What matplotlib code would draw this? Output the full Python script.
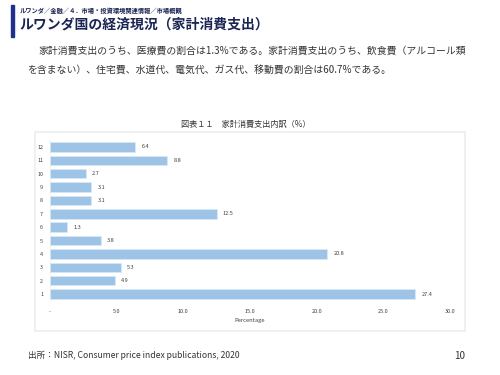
#household consumption breakdown slide (Rwanda), bar chart with slide texts around it
import matplotlib
matplotlib.use('Agg')
import matplotlib.pyplot as plt
from matplotlib.patches import Rectangle

plt.rcParams['font.family'] = ['Noto Sans CJK JP', 'DejaVu Sans']

#chart data
categories = ['1', '2', '3', '4', '5', '6', '7', '8', '9', '10', '11', '12']
values = [27.4, 4.9, 5.3, 20.8, 3.8, 1.3, 12.5, 3.1, 3.1, 2.7, 8.8, 6.4]
xticks = [0, 5, 10, 15, 20, 25, 30]
xtick_labels = ['-', '5.0', '10.0', '15.0', '20.0', '25.0', '30.0']

navy = '#1B2553'
txt = '#333333'
bar_col = '#9DC3E6'

fig = plt.figure(figsize=(5, 3.75), dpi=100)

#slide header
fig.add_artist(Rectangle((11/500, 1-37/375), 3/500, 32/375, color='#1F2F8C',
                         transform=fig.transFigure))
fig.text(20/500, 1-11/375, 'ルワンダ／金融／４．市場・投資環境関連情報／市場概観',
         fontsize=4.5, color=navy, fontweight='bold', va='center')
fig.text(19/500, 1-25/375, 'ルワンダ国の経済現況（家計消費支出）',
         fontsize=10.0, color=navy, fontweight='bold', va='center')

fig.text(38/500, 1-51/375,
         '家計消費支出のうち、医療費の割合は1.3%である。家計消費支出のうち、飲食費（アルコール類',
         fontsize=7.1, color=txt, va='center')
fig.text(27/500, 1-70/375,
         'を含まない）、住宅費、水道代、電気代、ガス代、移動費の割合は60.7%である。',
         fontsize=7.1, color=txt, va='center')

fig.text(246/500, 1-124/375, '図表１１　家計消費支出内訳（%）',
         fontsize=5.9, color=txt, va='center', ha='center')

#chart frame
fig.add_artist(Rectangle((35/500, 1-331/375), 430/500, 199/375, fill=False,
                         edgecolor='#EDEDED', linewidth=1.2, transform=fig.transFigure))

ax = fig.add_axes([0.1, 0.198, 0.8, 0.428])
pos = range(1, len(categories)+1)
ax.barh(pos, values, height=0.71, color=bar_col, edgecolor='#DCEAF7', linewidth=0.5)
for p, v in zip(pos, values):
    ax.text(v + 0.45, p, '%.1f' % v, fontsize=4.0, color='#404040', va='center', ha='left')

ax.set_xlim(0, 30)
ax.set_ylim(0.5, 12.5)
ax.set_yticks(list(pos))
ax.set_yticklabels(categories, fontsize=3.9, color='#404040')
ax.set_xticks(xticks)
ax.set_xticklabels(xtick_labels, fontsize=4.0, color='#404040')
ax.tick_params(length=0, pad=5)
ax.tick_params(axis='x', pad=6)
ax.set_xlabel('Percentage', fontsize=4.2, color='#404040', labelpad=3)
for s in ax.spines.values():
    s.set_visible(False)
ax.axvline(0, color='#F0F0F0', linewidth=0.6, zorder=0)

#footer
fig.text(28/500, 1-355/375, '出所：NISR, Consumer price index publications, 2020',
         fontsize=6.2, color=txt, va='center')
fig.text(460/500, 1-356/375, '10', fontsize=7.2, color=txt, va='center', ha='center')

fig.savefig('out.png', dpi=100)
plt.close()
